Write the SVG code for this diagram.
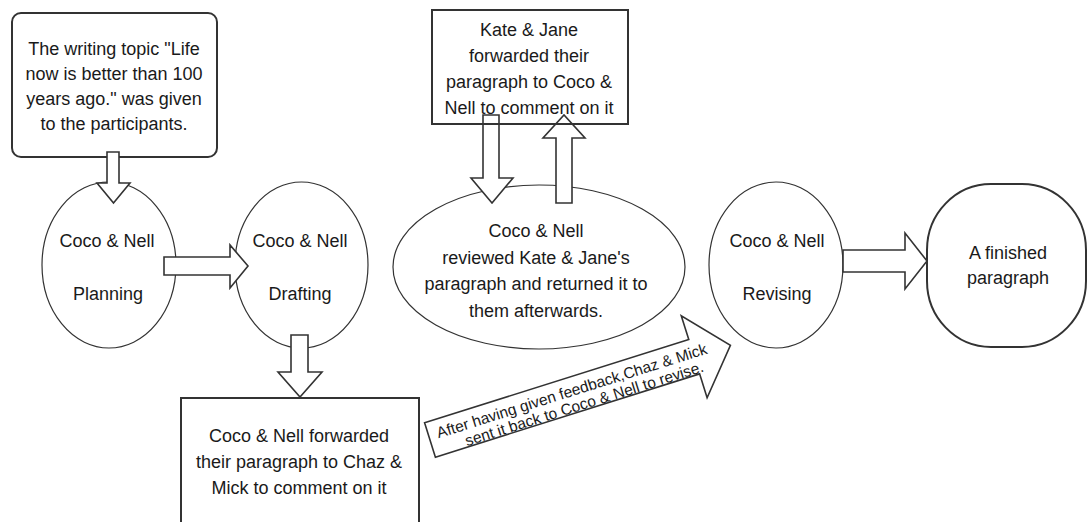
<svg xmlns="http://www.w3.org/2000/svg" width="1088" height="522" viewBox="0 0 1088 522">
<style>
.box{fill:#fff;stroke:#333;stroke-width:2}
.ell{fill:#fff;stroke:#333;stroke-width:1.2}
.arr{fill:#fff;stroke:#333;stroke-width:1.6;stroke-linejoin:miter}
text{font-family:"Liberation Sans",Arial,sans-serif;font-size:18px;fill:#1a1a1a;text-anchor:middle}
.small{font-size:15.5px}
</style>
<rect x="0" y="0" width="1088" height="522" fill="#fff"/>
<g id="topic">
<rect class="box" x="12" y="13" width="205" height="144" rx="9"/>
<text x="114" y="55">The writing topic "Life</text>
<text x="114" y="80">now is better than 100</text>
<text x="114" y="105">years ago." was given</text>
<text x="114" y="130">to the participants.</text>
</g>
<g id="planning">
<ellipse class="ell" cx="109" cy="265" rx="67" ry="83"/>
<text x="107" y="247">Coco &amp; Nell</text>
<text x="108" y="300">Planning</text>
</g>
<g id="drafting">
<ellipse class="ell" cx="301.5" cy="265" rx="66.5" ry="83"/>
<text x="300" y="247">Coco &amp; Nell</text>
<text x="300" y="300">Drafting</text>
</g>
<g id="forward-chaz">
<rect class="box" x="181" y="398" width="238" height="140"/>
<text x="299" y="442">Coco &amp; Nell forwarded</text>
<text x="299" y="468">their paragraph to Chaz &amp;</text>
<text x="299" y="494">Mick to comment on it</text>
</g>
<g id="reviewed">
<ellipse class="ell" cx="539" cy="267" rx="146" ry="82"/>
<text x="536" y="237">Coco &amp; Nell</text>
<text x="536" y="264">reviewed Kate &amp; Jane's</text>
<text x="536" y="290">paragraph and returned it to</text>
<text x="536" y="317">them afterwards.</text>
</g>
<g id="revising">
<ellipse class="ell" cx="776" cy="265" rx="67" ry="83"/>
<text x="777" y="247">Coco &amp; Nell</text>
<text x="777" y="300">Revising</text>
</g>
<g id="finished">
<rect class="box" x="927" y="184" width="159" height="163" rx="64" ry="66"/>
<text x="1008" y="259">A finished</text>
<text x="1008" y="284">paragraph</text>
</g>
<g id="connectors">
<path class="arr" d="M107,152 H119 V183 H130 L113.5,203 L97,183 H107 Z"/>
<path class="arr" d="M164,257 H230 V245 L248,266 L230,288 V275 H164 Z"/>
<path class="arr" d="M291,335 H308 V372 H322 L300,397 L278,372 H291 Z"/>
<path class="arr" d="M483,115 H499 V178 H513 L492,203 L471,178 H483 Z"/>
<path class="arr" d="M556,203 H572 V138 H585 L564,115 L543,138 H556 Z"/>
<g transform="translate(430,440) rotate(-17.5)">
<path class="arr" d="M0,-18 H277 V-43 L315,0 L277,43 V18 H0 Z"/>
<text class="small" x="150" y="1">After having given feedback,Chaz &amp; Mick</text>
<text class="small" x="158" y="17">sent it back to Coco &amp; Nell to revise.</text>
</g>
<path class="arr" d="M843,250 H905 V233 L927,261 L905,289 V272 H843 Z"/>
</g>
<g id="kate-jane">
<rect x="432" y="10" width="196" height="114" fill="none" stroke="#333" stroke-width="2"/>
<text x="529" y="36">Kate &amp; Jane</text>
<text x="529" y="62">forwarded their</text>
<text x="529" y="88">paragraph to Coco &amp;</text>
<text x="529" y="114">Nell to comment on it</text>
</g>
</svg>
